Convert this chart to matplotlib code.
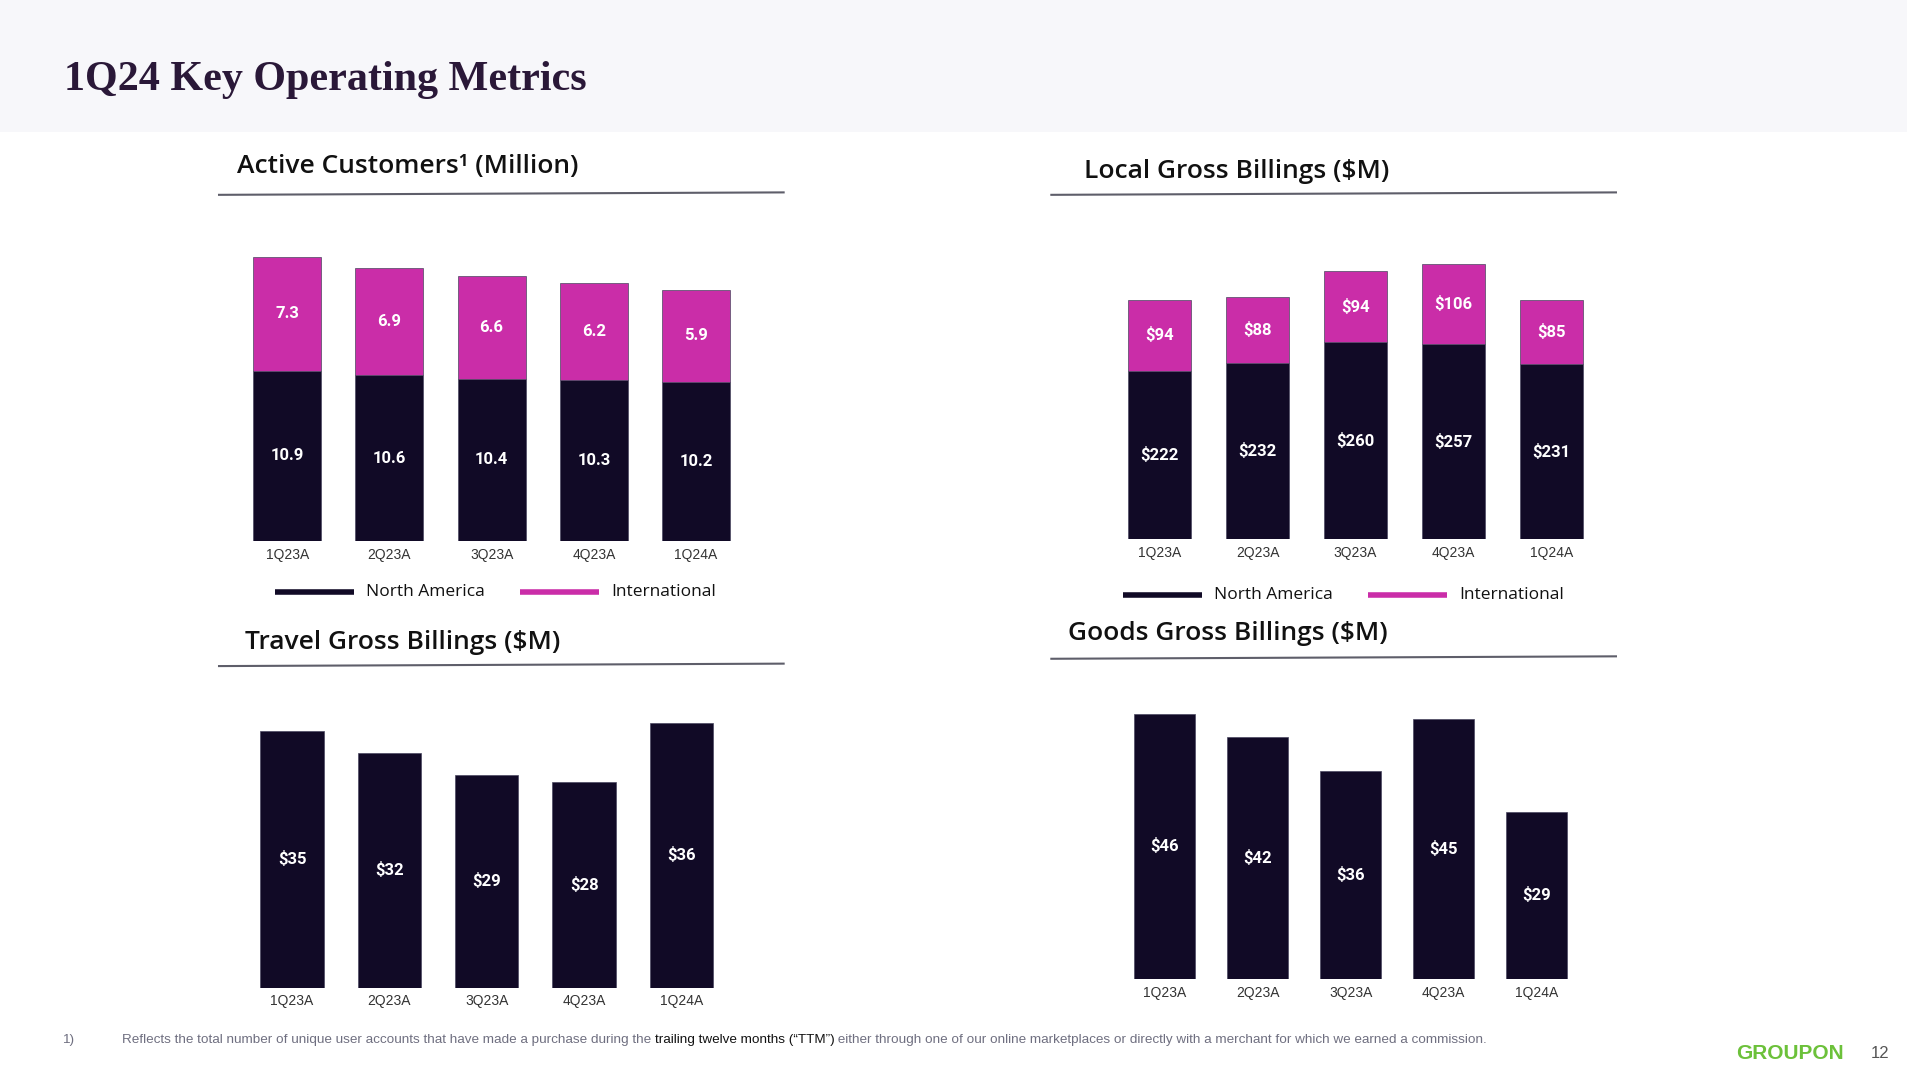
import matplotlib
matplotlib.use("Agg")
import matplotlib.pyplot as plt
from matplotlib.patches import Rectangle
from matplotlib.lines import Line2D

# data
quarters = ['1Q23A', '2Q23A', '3Q23A', '4Q23A', '1Q24A']
cust_na = [10.9, 10.6, 10.4, 10.3, 10.2]
cust_intl = [7.3, 6.9, 6.6, 6.2, 5.9]
local_na = [222, 232, 260, 257, 231]
local_intl = [94, 88, 94, 106, 85]
travel = [35, 32, 29, 28, 36]
goods = [46, 42, 36, 45, 29]

NAVY = '#110a26'
MAG = '#ca2da8'
TITLE_FONT = ['Open Sans', 'DejaVu Sans']

W, H = 1568.0, 882.0   # layout measured in slide units


def fx(x):
    return x / W


def fy(y):
    return 1 - y / H


fig = plt.figure(figsize=(19.08, 10.74), dpi=100)
fig.patch.set_facecolor('white')

# header band
fig.patches.append(Rectangle((0, fy(108)), 1, 108 / H, transform=fig.transFigure,
                             facecolor='#f7f7fa', edgecolor='none', zorder=0))
fig.text(fx(53), fy(66), '1Q24 Key Operating Metrics', family='Liberation Serif',
         weight='bold', size=30.3, color='#2a1838', va='center', ha='left')


def panel(x0, x1, ybot, ytop, ymax):
    ax = fig.add_axes([fx(x0), fy(ybot), fx(x1) - fx(x0), (ybot - ytop) / H])
    ax.set_xlim(-0.5, 4.5)
    ax.set_ylim(0, ymax)
    for s in ax.spines.values():
        s.set_visible(False)
    ax.set_yticks([])
    ax.set_xticks(range(len(quarters)))
    ax.set_xticklabels(quarters, family='Liberation Sans', size=10, color='#333333')
    ax.tick_params(axis='x', length=0, pad=5)
    ax.patch.set_alpha(0)
    return ax


def heading(x, y, text, lx0, lx1, ly):
    fig.text(fx(x), fy(y + 2), text, family=TITLE_FONT, weight='semibold', size=19,
             color='#111111', va='center', ha='left')
    fig.add_artist(Line2D([fx(lx0), fx(lx1)], [fy(ly + 1), fy(ly - 1)],
                          transform=fig.transFigure, color='#5e5e6a', lw=1.5))


def legend(x, y):
    fig.add_artist(Line2D([fx(x), fx(x + 65)], [fy(y), fy(y)], transform=fig.transFigure,
                          color=NAVY, lw=4, solid_capstyle='butt'))
    fig.text(fx(x + 75), fy(y), 'North America', family=TITLE_FONT, size=12.5,
             color='#111111', va='center')
    fig.add_artist(Line2D([fx(x + 201), fx(x + 266)], [fy(y), fy(y)], transform=fig.transFigure,
                          color=MAG, lw=4, solid_capstyle='butt'))
    fig.text(fx(x + 276), fy(y), 'International', family=TITLE_FONT, size=12.5,
             color='#111111', va='center')


def labels(ax, bars, vals, fmt):
    for b, v in zip(bars, vals):
        ax.text(b.get_x() + b.get_width() / 2, b.get_y() + b.get_height() / 2, fmt.format(v),
                ha='center', va='center', color='white', family='Roboto', weight='bold', size=12)


x = list(range(len(quarters)))
edge = dict(edgecolor='#4a4760', linewidth=0.5)

# Active customers
heading(195, 135, 'Active Customers\u00b9 (Million)', 180, 644, 159)
ax1 = panel(194, 614, 444, 190, 254 / 12.8)
b1 = ax1.bar(x, cust_na, width=0.667, color=NAVY, **edge)
b2 = ax1.bar(x, cust_intl, width=0.667, bottom=cust_na, color=MAG, **edge)
labels(ax1, b1, cust_na, '{:.1f}')
labels(ax1, b2, cust_intl, '{:.1f}')
legend(226, 486)

# Local gross billings
heading(891, 139, 'Local Gross Billings ($M)', 864, 1328, 159)
ax2 = panel(912.75, 1315.25, 443, 190, 253 / 0.623)
b1 = ax2.bar(x, local_na, width=0.646, color=NAVY, **edge)
b2 = ax2.bar(x, local_intl, width=0.646, bottom=local_na, color=MAG, **edge)
labels(ax2, b1, local_na, '${}')
labels(ax2, b2, local_intl, '${}')
legend(923, 489)

# Travel gross billings
heading(201, 526, 'Travel Gross Billings ($M)', 180, 644, 546)
ax3 = panel(200, 600, 811, 570, 241 / 6.03)
b1 = ax3.bar(x, travel, width=0.65, color=NAVY, **edge)
labels(ax3, b1, travel, '${}')

# Goods gross billings
heading(878, 518, 'Goods Gross Billings ($M)', 864, 1328, 540)
ax4 = panel(918.75, 1301.25, 804, 570, 234 / 4.74)
b1 = ax4.bar(x, goods, width=0.654, color=NAVY, **edge)
labels(ax4, b1, goods, '${}')

# footnote
fs = 9.7
fig.text(fx(51), fy(854), '1)', family='Liberation Sans', size=fs, color='#6f6f80', va='center')
t1 = fig.text(fx(100), fy(854), 'Reflects the total number of unique user accounts that have made a purchase during the ',
              family='Liberation Sans', size=fs, color='#6f6f80', va='center')
t2 = fig.text(0, 0, 'trailing twelve months (\u201cTTM\u201d)', family='Liberation Sans', size=fs,
              color='#111111', va='center')
t3 = fig.text(0, 0, ' either through one of our online marketplaces or directly with a merchant for which we earned a commission.',
              family='Liberation Sans', size=fs, color='#6f6f80', va='center')
fig.canvas.draw()
r = fig.canvas.get_renderer()
bb = t1.get_window_extent(r)
t2.set_position((bb.x1 / fig.bbox.width, fy(854)))
bb = t2.get_window_extent(r)
t3.set_position((bb.x1 / fig.bbox.width, fy(854)))

fig.text(fx(1471), fy(865), 'GROUPON', family='Liberation Sans', weight='bold', size=15,
         color='#6cc13a', ha='center', va='center')
fig.text(fx(1545), fy(865), '12', family='Liberation Sans', size=12, color='#555555',
         ha='center', va='center')

fig.savefig('out.png', dpi=100, facecolor='white')
